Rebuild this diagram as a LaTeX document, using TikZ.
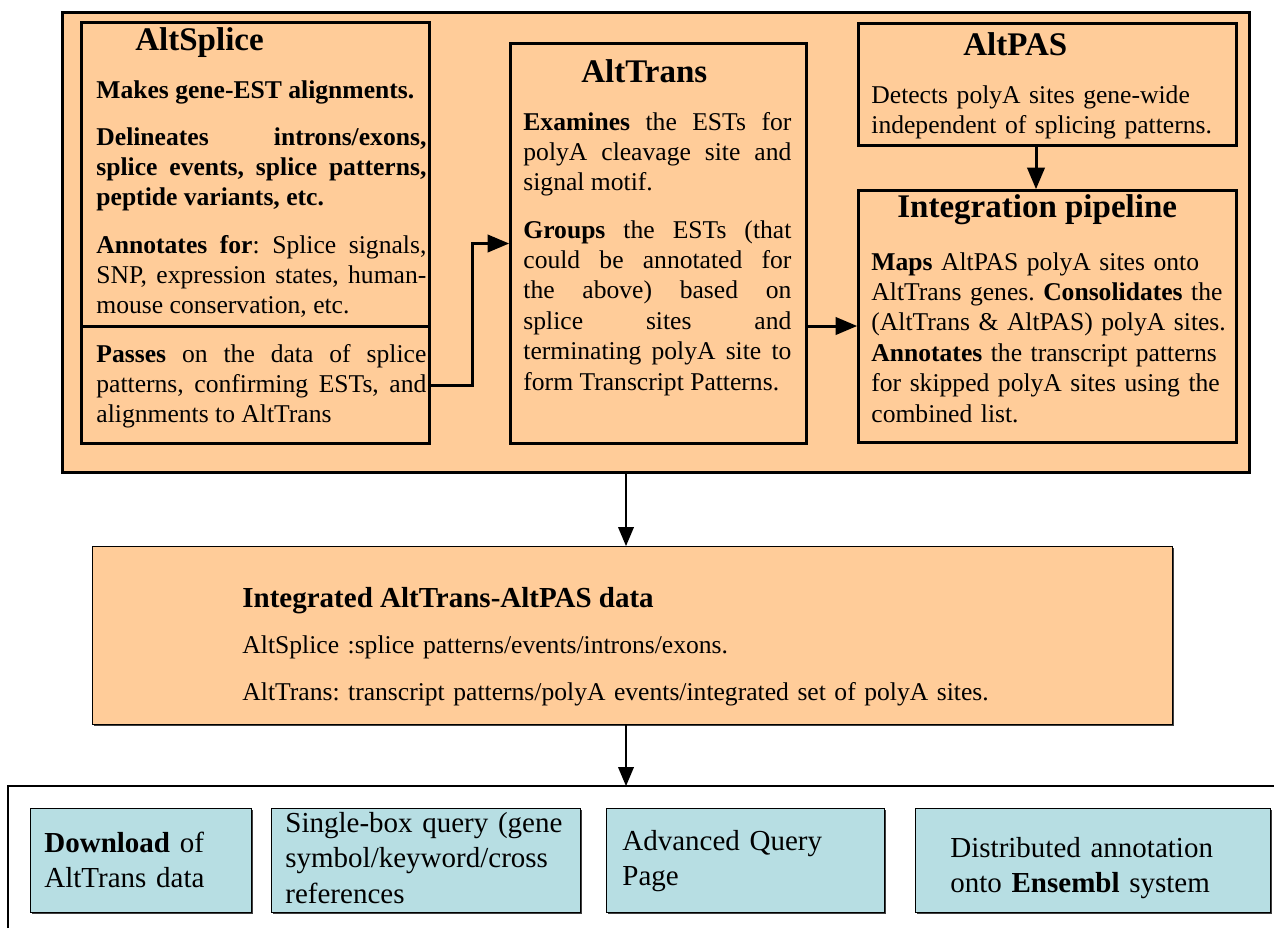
\documentclass[tikz,border=0pt]{standalone}
\usepackage{fontspec}
\setmainfont{Liberation Serif}
\usepackage{tikz}
\usetikzlibrary{arrows,calc,positioning,shadows}
\definecolor{peach}{RGB}{255,204,153}
\definecolor{paleteal}{RGB}{183,222,227}
\frenchspacing
\tikzset{
	box/.style={draw,line width=1.5pt,fill=peach,inner sep=0pt,anchor=north west},
	flatbox/.style={draw,line width=0.5pt,inner sep=0pt,anchor=north west,drop shadow={shadow xshift=0.8pt,shadow yshift=-0.8pt,opacity=1,fill=black!75}},
	head/.style={anchor=base west,inner sep=0pt,font=\fontsize{16.5}{19}\selectfont\bfseries},
	txt/.style={anchor=base west,inner sep=0pt,align=justify,font=\fontsize{12.8}{15.2}\selectfont},
	rag/.style={anchor=base west,inner sep=0pt,align=left,font=\fontsize{12.8}{15.2}\selectfont},
	big/.style={anchor=base west,inner sep=0pt,align=left,font=\fontsize{14.5}{17.8}\selectfont}
}

\begin{document}
\begin{tikzpicture}[>=triangle 45,x=0.5pt,y=-0.5pt]
	\useasboundingbox (0,0) rectangle (1274,928);
	\node[box,minimum width=593.5pt,minimum height=230pt] (core) at (61,11) {};
	\node[box,minimum width=174pt,minimum height=210.5pt] (altsplice) at (80,21) {};
	\node[box,minimum width=174pt,minimum height=58.5pt] (passes) at (80,325) {};
	\node[box,minimum width=148pt,minimum height=200pt] (alttrans) at (509,42) {};
	\node[box,minimum width=189pt,minimum height=61pt] (altpas) at (857,22) {};
	\node[box,minimum width=189pt,minimum height=126pt] (integ) at (857,189) {};

	\node[head] (spliceT) at (135,50) {AltSplice};
	\node[txt,text width=165pt] (makes) at (96,98) {\textbf{Makes gene-EST alignments.}};
	\node[txt,text width=165pt] (delin) at (96,145) {\textbf{Delineates introns/exons,\linebreak splice events, splice patterns,\linebreak peptide variants, etc.}};
	\node[txt,text width=165pt] (annot) at (96,253) {\textbf{Annotates for}: Splice signals,\linebreak SNP, expression states, human-\linebreak mouse conservation, etc.};
	\node[txt,text width=165pt] (pass) at (96,362) {\textbf{Passes} on the data of splice\linebreak patterns, confirming ESTs, and\linebreak alignments to AltTrans};

	\node[head] (transT) at (581,82) {AltTrans};
	\node[txt,text width=134pt] (exam) at (523,130) {\textbf{Examines} the ESTs for\linebreak polyA cleavage site and\linebreak signal motif.};
	\node[txt,text width=134pt] (groups) at (523,238) {\textbf{Groups} the ESTs (that\linebreak could be annotated for\linebreak the above) based on\linebreak splice sites and\linebreak terminating polyA site to\linebreak form Transcript Patterns.};

	\node[head] (pasT) at (963,55) {AltPAS};
	\node[rag,text width=180pt] (detects) at (871,103) {Detects polyA sites gene-wide\\independent of splicing patterns.};
	\node[head] (integT) at (897,217) {Integration pipeline};
	\node[rag,text width=180pt] (maps) at (871,270) {\textbf{Maps} AltPAS polyA sites onto\\AltTrans genes. \textbf{Consolidates} the\\(AltTrans \& AltPAS) polyA sites.\\\textbf{Annotates} the transcript patterns\\for skipped polyA sites using the\\combined list.};

	\draw[->,line width=1.5pt] (passes.east) -- ++(41,0) |- (alttrans.west);
	\draw[->,line width=1.5pt] (alttrans.east |- 0,326) -- (integ.west |- 0,326);
	\draw[->,line width=1.5pt] (altpas.south -| 1036,0) -- (integ.north -| 1036,0);

	\node[flatbox,fill=peach,minimum width=540pt,minimum height=89pt] (merged) at (92,546) {};
	\node[anchor=base west,inner sep=0pt,font=\fontsize{14.5}{17}\selectfont\bfseries] (mergedT) at (242,607) {Integrated AltTrans-AltPAS data};
	\node[rag,text width=460pt] (mergedA) at (242,653) {AltSplice :splice patterns/events/introns/exons.};
	\node[rag,text width=460pt] (mergedB) at (242,700) {AltTrans: transcript patterns/polyA events/integrated set of polyA sites.};
	\draw[->,line width=1.2pt] (core.south -| 626,0) -- (merged.north -| 626,0);

	\coordinate (web) at (626,786);
	\draw[line width=0.6pt] (8,928) -- (8,786) -- (1274,786);
	\draw[->,line width=1.2pt] (merged.south -| 626,0) -- (web);

	\node[flatbox,fill=paleteal,minimum width=110.5pt,minimum height=52pt] (download) at (30,808) {};
	\node[flatbox,fill=paleteal,minimum width=154.5pt,minimum height=52pt] (query) at (271,808) {};
	\node[flatbox,fill=paleteal,minimum width=139pt,minimum height=52pt] (advanced) at (606,808) {};
	\node[flatbox,fill=paleteal,minimum width=177.5pt,minimum height=52pt] (das) at (915,808) {};
	\node[big,text width=100pt] (downloadT) at (44,852) {\textbf{Download} of\\AltTrans data};
	\node[big,text width=145pt] (queryT) at (285,832) {Single-box query (gene\\symbol/keyword/cross\\references};
	\node[big,text width=125pt] (advancedT) at (622,850) {Advanced Query\\Page};
	\node[big,text width=150pt] (dasT) at (950,857) {Distributed annotation\\onto \textbf{Ensembl} system};
\end{tikzpicture}
\end{document}
